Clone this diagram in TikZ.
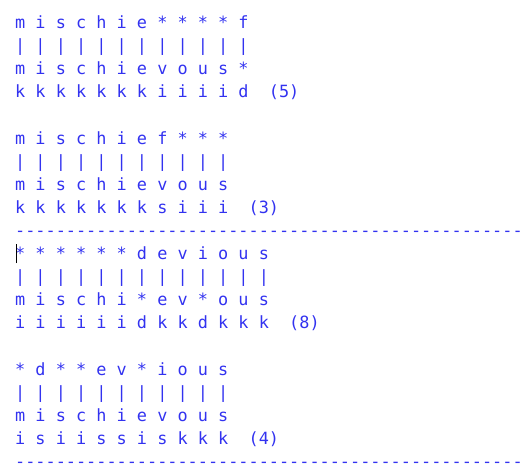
\documentclass[tikz,border=0pt]{standalone}
\usepackage{fontspec}
\setmonofont{DejaVu Sans Mono}
\begin{document}
\begin{tikzpicture}[
        x=1pt, y=-1pt,
    ]

    \tikzstyle{row} = [anchor=base west, inner sep=0pt, text=alignblue,
                       font=\ttfamily\fontsize{16.86}{20}\selectfont];
    \tikzstyle{cursor} = [draw=black, line width=1.2pt];

    \definecolor{alignblue}{RGB}{50,50,240}

    \useasboundingbox (0,0) rectangle (532,472);

    % First word pair
    \node[row] (r0) at (15,28.5) {m i s c h i e * * * * f};
    \node[row] (r1) at (15,51.6) {| | | | | | | | | | | |};
    \node[row] (r2) at (15,74.7) {m i s c h i e v o u s *};
    \node[row] (r3) at (15,97.8) {k k k k k k k i i i i d~~(5)};

    \node[row] (r5) at (15,144.0) {m i s c h i e f * * *};
    \node[row] (r6) at (15,167.1) {| | | | | | | | | | |};
    \node[row] (r7) at (15,190.2) {m i s c h i e v o u s};
    \node[row] (r8) at (15,213.3) {k k k k k k k s i i i~~(3)};

    \node[row] (r9) at (15,236.4) {--------------------------------------------------};

    % Second word pair
    \node[row] (r10) at (15,259.5) {* * * * * * d e v i o u s};
    \node[row] (r11) at (15,282.6) {| | | | | | | | | | | | |};
    \node[row] (r12) at (15,305.7) {m i s c h i * e v * o u s};
    \node[row] (r13) at (15,328.8) {i i i i i i d k k d k k k~~(8)};

    \node[row] (r15) at (15,375.0) {* d * * e v * i o u s};
    \node[row] (r16) at (15,398.1) {| | | | | | | | | | |};
    \node[row] (r17) at (15,421.2) {m i s c h i e v o u s};
    \node[row] (r18) at (15,444.3) {i s i i s s i s k k k~~(4)};

    \node[row] (r19) at (15,467.4) {--------------------------------------------------};

    % Text cursor
    \draw[cursor] ([xshift=1.5pt,yshift=-3.5pt]r10.base west) -- ++(0,-19);

    \end{tikzpicture}
\end{document}
